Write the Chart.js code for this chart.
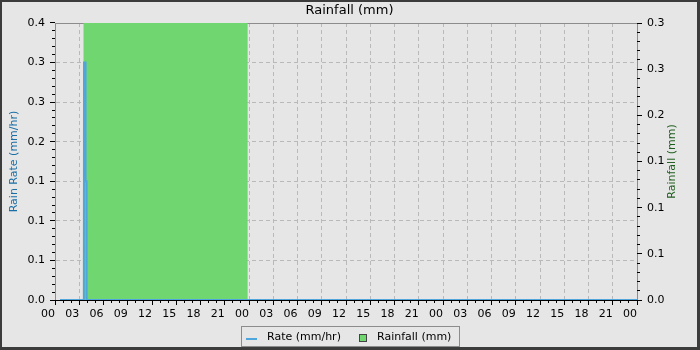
<!DOCTYPE html>
<html>
<head>
<meta charset="utf-8">
<script src="https://cdn.jsdelivr.net/npm/chart.js@4.4.1/dist/chart.umd.min.js"></script>
<style>
  html, body { margin: 0; padding: 0; background: #e6e6e6; }
  #cadre {
    position: relative; width: 700px; height: 350px; box-sizing: border-box;
    border: 2px solid #3c3c3c; border-right-width: 3px; border-bottom-width: 3px;
    background: #e6e6e6; font-family: 'DejaVu Sans', sans-serif;
  }
  #graficoChuva { position: absolute; left: 0; top: 0; }
  #legenda {
    position: absolute; left: 239px; top: 324px; width: 219px; height: 21px;
    box-sizing: border-box; border: 1px solid #8c8c8c; font-size: 11px; color: #000;
  }
  #legenda span { position: absolute; line-height: 19px; top: 0; white-space: nowrap; }
  #legenda .marcaLinha { position: absolute; left: 4px; top: 11px; width: 11px; height: 2px; }
  #legenda .marcaCaixa { position: absolute; left: 117px; top: 7px; width: 8px; height: 8px; box-sizing: border-box; border: 1px solid #444; }
</style>
</head>
<body>
<div id="cadre">
  <canvas id="graficoChuva" width="695" height="345"></canvas>
  <div id="legenda">
    <div class="marcaLinha" id="marcaTaxa"></div><span style="left:25px">Rate (mm/hr)</span>
    <div class="marcaCaixa" id="marcaChuva"></div><span style="left:135px">Rainfall (mm)</span>
  </div>
</div>
<script>
// eixo x em horas desde o inicio do periodo (3 dias)
const rotulosX = ['00', '03', '06', '09', '12', '15', '18', '21', '00', '03', '06', '09', '12',
  '15', '18', '21', '00', '03', '06', '09', '12', '15', '18', '21', '00'];
const rotulosTaxa = ['0.0', '0.1', '0.1', '0.1', '0.2', '0.3', '0.3', '0.4'];
const rotulosChuva = ['0.0', '0.1', '0.1', '0.1', '0.2', '0.3', '0.3'];

const horasTaxa = [0.62, 3.57, 3.59, 3.77, 3.78, 3.90, 3.91, 72];
const taxaChuva = [0, 0, 0.3, 0.3, 0.15, 0.15, 0, 0];

const horasChuva = [3.5, 23.85];
const chuvaAcumulada = [0.3, 0.3];

const corTaxa = '#4ea6dc';
const corChuva = '#70d670';
const fonte = "'DejaVu Sans', sans-serif";

document.getElementById('marcaTaxa').style.background = corTaxa;
document.getElementById('marcaChuva').style.background = corChuva;

function pontos(xs, ys) {
  return xs.map((x, i) => ({ x: x, y: ys[i] }));
}

function alinhar(p) {
  return Math.round(p - 0.5) + 0.5;
}

function desenharMarcas(ctx, escala, passoMenor, passoMaior, lado, area) {
  const n = Math.round((escala.max - escala.min) / passoMenor);
  const cada = Math.round(passoMaior / passoMenor);
  ctx.beginPath();
  for (let i = 0; i <= n; i++) {
    const v = escala.min + i * passoMenor;
    const tam = i % cada === 0 ? 5 : 3;
    const p = alinhar(escala.getPixelForValue(v));
    if (lado === 'baixo') {
      ctx.moveTo(p, area.bottom);
      ctx.lineTo(p, area.bottom + tam);
    } else if (lado === 'esquerda') {
      ctx.moveTo(area.left - tam, p);
      ctx.lineTo(area.left, p);
    } else {
      ctx.moveTo(area.right, p);
      ctx.lineTo(area.right + tam, p);
    }
  }
  ctx.stroke();
}

const marcasEixos = {
  id: 'marcasEixos',
  beforeDatasetsDraw(chart) {
    const { ctx, chartArea: a } = chart;
    ctx.save();
    ctx.strokeStyle = '#8c8c8c';
    ctx.lineWidth = 1;
    ctx.beginPath();
    ctx.moveTo(a.left, a.top + 0.5);
    ctx.lineTo(a.right, a.top + 0.5);
    ctx.stroke();
    ctx.restore();
  },
  afterDraw(chart) {
    const { ctx, chartArea: a, scales } = chart;
    ctx.save();
    ctx.strokeStyle = '#000';
    ctx.lineWidth = 1;
    desenharMarcas(ctx, scales.x, 1, 3, 'baixo', a);
    desenharMarcas(ctx, scales.y, 0.01, 0.05, 'esquerda', a);
    desenharMarcas(ctx, scales.y2, 0.01, 0.05, 'direita', a);

    // titulo do eixo direito, lido de baixo para cima
    ctx.fillStyle = '#1e5e1e';
    ctx.font = '11px ' + fonte;
    ctx.textAlign = 'center';
    ctx.textBaseline = 'middle';
    ctx.translate(670.5, (a.top + a.bottom) / 2);
    ctx.rotate(-Math.PI / 2);
    ctx.fillText('Rainfall (mm)', 0, 0);
    ctx.restore();
  }
};

const ctxChuva = document.getElementById('graficoChuva').getContext('2d');
new Chart(ctxChuva, {
  type: 'line',
  data: {
    datasets: [
      {
        label: 'Rate (mm/hr)',
        data: pontos(horasTaxa, taxaChuva),
        borderColor: corTaxa,
        borderWidth: 2,
        pointRadius: 0,
        tension: 0,
        fill: false,
        yAxisID: 'y'
      },
      {
        label: 'Rainfall (mm)',
        data: pontos(horasChuva, chuvaAcumulada),
        borderColor: corChuva,
        backgroundColor: corChuva,
        borderWidth: 0,
        pointRadius: 0,
        tension: 0,
        fill: 'origin',
        yAxisID: 'y2'
      }
    ]
  },
  options: {
    responsive: false,
    animation: false,
    layout: { padding: 0 },
    plugins: {
      legend: { display: false },
      tooltip: { enabled: false },
      title: {
        display: true,
        text: 'Rainfall (mm)',
        color: '#000',
        font: { family: fonte, size: 13, weight: 'normal' },
        padding: { top: 1, bottom: 4.4 }
      }
    },
    scales: {
      x: {
        type: 'linear',
        position: 'bottom',
        min: 0,
        max: 72,
        afterFit: function(escala) { escala.height = 47; },
        grid: { color: '#b9b9b9', drawTicks: false },
        border: { color: '#000', dash: [4, 3], z: 1 },
        ticks: {
          stepSize: 3,
          autoSkip: false,
          maxRotation: 0,
          align: 'end',
          padding: 8,
          color: '#000',
          font: { family: fonte, size: 11 },
          callback: function(valor) { return rotulosX[Math.round(valor / 3)]; }
        }
      },
      y: {
        position: 'left',
        min: 0,
        max: 0.35,
        afterFit: function(escala) { escala.width = 53; },
        grid: { color: '#b9b9b9', drawTicks: false },
        border: { color: '#8c8c8c', dash: [4, 3] },
        title: {
          display: true,
          text: 'Rain Rate (mm/hr)',
          color: '#1b6ea5',
          font: { family: fonte, size: 11 },
          padding: { top: 6, bottom: 0 }
        },
        ticks: {
          stepSize: 0.05,
          padding: 10,
          color: '#000',
          font: { family: fonte, size: 11 },
          callback: function(valor, indice) { return rotulosTaxa[indice]; }
        }
      },
      y2: {
        position: 'right',
        min: 0,
        max: 0.3,
        afterFit: function(escala) { escala.width = 60; },
        grid: { drawOnChartArea: false, drawTicks: false },
        border: { color: '#8c8c8c' },
        ticks: {
          stepSize: 0.05,
          padding: 10,
          color: '#000',
          font: { family: fonte, size: 11 },
          callback: function(valor, indice) { return rotulosChuva[indice]; }
        }
      }
    }
  },
  plugins: [marcasEixos]
});
</script>
</body>
</html>
